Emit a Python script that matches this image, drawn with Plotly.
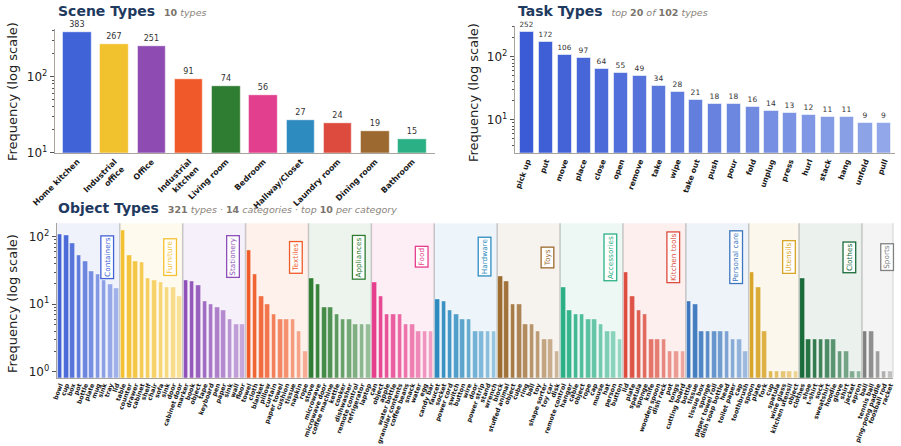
import plotly.graph_objects as go

# ---------------- data ----------------
scene_types = ["Home kitchen", "Industrial<br>office", "Office", "Industrial<br>kitchen", "Living room",
               "Bedroom", "Hallway/Closet", "Laundry room", "Dining room", "Bathroom"]
scene_counts = [383, 267, 251, 91, 74, 56, 27, 24, 19, 15]
scene_colors = ["#4163d8", "#f2c12e", "#8e4cb3", "#f05a2a", "#2e7d32",
                "#e23f8e", "#2e8bc0", "#dd4b3e", "#9c6a30", "#2bb085"]

task_types = ["pick up", "put", "move", "place", "close", "open", "remove", "take", "wipe", "take out",
              "push", "pour", "fold", "unplug", "press", "hurl", "stack", "hang", "unfold", "pull"]
task_counts = [252, 172, 106, 97, 64, 55, 49, 34, 28, 21, 18, 18, 16, 14, 13, 12, 11, 11, 9, 9]

obj_categories = ["Containers", "Furniture", "Stationery", "Textiles", "Appliances", "Food", "Hardware",
                  "Toys", "Accessories", "Kitchen tools", "Personal care", "Utensils", "Clothes", "Sports"]
obj_cat_colors = ["#4263d6", "#f3c130", "#8e4fb8", "#f05a28", "#2e7d32", "#e63e8c", "#2e8bc0",
                  "#9c6b30", "#2bb086", "#dd4b3e", "#3b76be", "#d9a528", "#1a6b3a", "#808080"]
obj_labels = [
    ["bowl", "cup", "box", "pot", "bottle", "plate", "mug", "sink", "tray", "lid"],
    ["table", "counter", "drawer", "cabinet", "shelf", "chair", "sofa", "sink", "door", "cabinet door"],
    ["marker", "book", "object", "tape", "keyboard", "pen", "paper", "sink", "wall", "floor"],
    ["towel", "cloth", "blanket", "pillow", "curtain", "paper towel", "cushion", "tissue", "napkin", "rope"],
    ["stove", "microwave", "microwave door", "coffee machine", "kettle", "cooker", "dishwasher",
     "remote control", "refrigerator", "laptop"],
    ["can", "object", "apple", "water bottle", "granular contents", "coffee beans", "snack", "water",
     "egg", "candy bar"],
    ["faucet", "socket", "power cord", "switch", "button", "wire", "door", "power strip", "stand", "wrench"],
    ["block", "stuffed animal", "object", "cube", "ring", "ball", "toy", "shape sorter", "toy car", "disk"],
    ["remote control", "hanger", "cable", "object", "rope", "cap", "mouse", "hat", "person", "button"],
    ["lid", "plate", "spatula", "sponge", "knife", "wooden spoon", "dish rack", "pot", "tongs", "cutting board"],
    ["bottle", "tissue", "tissue box", "sponge", "paper towel roll", "dish soap bottle", "head",
     "toilet paper", "cap", "toothbrush"],
    ["spoon", "plate", "fork", "cup", "spatula", "wine glass", "kitchen utensil", "object"],
    ["clothes", "shoe", "t-shirt", "sock", "sweatshirt", "hoodie", "glove", "shirt", "jacket", "apron"],
    ["ball", "tennis ball", "ping-pong paddle", "foosball rod", "racket"],
]
obj_counts = [
    [108, 104, 80, 53, 44, 31, 28, 23, 20, 17],
    [124, 54, 44, 42, 24, 23, 21, 18, 18, 13],
    [23, 22, 19, 11, 10, 9, 8, 6, 5, 5],
    [62, 28, 13, 10, 7, 6, 6, 6, 4, 2],
    [24, 20, 9, 9, 7, 6, 6, 5, 5, 5],
    [21, 13, 7, 7, 7, 5, 5, 4, 4, 4],
    [12, 11, 8, 7, 6, 6, 4, 4, 4, 4],
    [26, 22, 10, 10, 5, 5, 4, 3, 3, 2],
    [18, 8, 7, 7, 6, 6, 5, 4, 4, 3],
    [30, 13, 8, 7, 3, 3, 3, 2, 2, 2],
    [11, 10, 4, 4, 4, 4, 4, 3, 3, 2],
    [30, 18, 4, 1, 1, 1, 1, 1],
    [24, 3, 3, 3, 3, 3, 2, 2, 1, 1],
    [4, 4, 2, 1, 1],
]

# ---------------- helpers ----------------
FONT = "DejaVu Sans"
W, H = 901, 446


def hex_rgb(h):
    h = h.lstrip("#")
    return tuple(int(h[i:i + 2], 16) for i in (0, 2, 4))


def mix_white(h, t):
    r, g, b = hex_rgb(h)
    return "rgb(%d,%d,%d)" % (r + (255 - r) * t, g + (255 - g) * t, b + (255 - b) * t)


def lerp(h1, h2, t):
    a, b = hex_rgb(h1), hex_rgb(h2)
    return "rgb(%d,%d,%d)" % tuple(a[i] + (b[i] - a[i]) * t for i in range(3))


def rgba(h, a):
    r, g, b = hex_rgb(h)
    return "rgba(%d,%d,%d,%.3f)" % (r, g, b, a)


def px(x):
    return x / W


def py(y):
    return 1 - y / H


fig = go.Figure()

# Scene bars
fig.add_trace(go.Bar(
    x=list(range(len(scene_types))), y=scene_counts, width=0.76,
    marker=dict(color=scene_colors, line=dict(color="rgba(255,255,255,0.55)", width=1.2)),
    text=[str(v) for v in scene_counts], textposition="outside", cliponaxis=False,
    textfont=dict(family=FONT, size=8, color="#333333"),
    xaxis="x", yaxis="y", showlegend=False, hoverinfo="skip"))

# Task bars
n_t = len(task_types)
task_colors = [lerp("#3a5bd5", "#92a7e9", i / (n_t - 1)) for i in range(n_t)]
fig.add_trace(go.Bar(
    x=list(range(n_t)), y=task_counts, width=0.75,
    marker=dict(color=task_colors, line=dict(color="rgba(255,255,255,0.55)", width=1)),
    text=[str(v) for v in task_counts], textposition="outside", cliponaxis=False,
    textfont=dict(family=FONT, size=7.5, color="#333333"),
    xaxis="x2", yaxis="y2", showlegend=False, hoverinfo="skip"))

# Object bars
ox, oy, oc, otext = [], [], [], []
shapes, annotations = [], []
idx = 0
bounds = []
for ci, cat in enumerate(obj_categories):
    labs, vals, col = obj_labels[ci], obj_counts[ci], obj_cat_colors[ci]
    n = len(vals)
    start = idx
    for j, (lab, v) in enumerate(zip(labs, vals)):
        ox.append(idx)
        oy.append(v)
        oc.append(mix_white(col, 0.5 * j / max(n - 1, 1)))
        otext.append(lab)
        idx += 1
    shapes.append(dict(type="rect", xref="x3", yref="y3 domain", x0=start - 0.5, x1=idx - 0.5,
                       y0=0, y1=1, fillcolor=rgba(col, 0.085), line=dict(width=0), layer="below"))
    bounds.append(start - 0.5)
    annotations.append(dict(
        x=start - 0.5 + 0.8 * n, y=1.70, xref="x3", yref="y3", text=cat, textangle=-90,
        showarrow=False, font=dict(family=FONT, size=7.3, color=col),
        bgcolor="white", bordercolor=col, borderwidth=1.3, borderpad=1))
bounds.append(idx - 0.5)
for b in bounds[1:]:
    shapes.append(dict(type="line", xref="x3", yref="y3 domain", x0=b, x1=b, y0=0, y1=1,
                       line=dict(color="rgba(160,160,160,0.55)", width=1.5), layer="below"))

fig.add_trace(go.Bar(
    x=ox, y=oy, width=0.72,
    marker=dict(color=oc, line=dict(color="rgba(255,255,255,0.6)", width=0.6)),
    xaxis="x3", yaxis="y3", showlegend=False, hoverinfo="skip"))

# ---------------- axes ----------------
spine = "#a8a39c"
tickc = "#555555"


def ylog(domain, rng, tv, tt, minors, anchor):
    return dict(type="log", domain=domain, range=rng, tickvals=tv, ticktext=tt, anchor=anchor,
                automargin=False,
                tickfont=dict(family=FONT, size=12, color="#222222"),
                showline=True, linecolor=spine, linewidth=1.4, ticks="outside", ticklen=4,
                tickcolor=tickc, tickwidth=1, showgrid=False, zeroline=False,
                minor=dict(tickvals=minors, ticks="outside", ticklen=2, tickcolor=tickc, tickwidth=0.8,
                           showgrid=False))


def xcat(domain, rng, anchor, labels, size, angle):
    return dict(domain=domain, range=rng, anchor=anchor, tickvals=list(range(len(labels))),
                ticktext=labels, tickangle=angle, automargin=False,
                tickfont=dict(family=FONT, size=size, color="#1a1a1a", weight="bold"),
                showline=True, linecolor=spine, linewidth=1.4, ticks="", showgrid=False, zeroline=False)


minor_s = [20, 30, 40, 50, 60, 70, 80, 90, 200, 300, 400]
minor_t = [4, 5, 6, 7, 8, 9, 20, 30, 40, 50, 60, 70, 80, 90, 200, 300]
minor_o = [2, 3, 4, 5, 6, 7, 8, 9, 20, 30, 40, 50, 60, 70, 80, 90, 200, 300]

fig.update_layout(
    width=W, height=H, margin=dict(l=0, r=0, t=0, b=0, autoexpand=False),
    paper_bgcolor="white", plot_bgcolor="rgba(0,0,0,0)", bargap=0,
    font=dict(family=FONT),
    xaxis=xcat([px(55), px(435)], [-0.6, 9.6], "y", scene_types, 8, -45),
    yaxis=ylog([py(152.7), py(29.3)], [1, 2.62], [10, 100], ["10<sup>1</sup>", "10<sup>2</sup>"], minor_s, "x"),
    xaxis2=xcat([px(515), px(895)], [-0.65, 19.57], "y2", task_types, 7.5, -70),
    yaxis2=ylog([py(152.7), py(26)], [0.48, 2.49], [10, 100], ["10<sup>1</sup>", "10<sup>2</sup>"], minor_t, "x2"),
    xaxis3=xcat([px(56.9), px(893.4)], [-0.5, 132.5], "y3", otext, 6.3, -70),
    yaxis3=ylog([py(377.7), py(223.3)], [-0.09, 2.2], [1, 10, 100],
                ["10<sup>0</sup>", "10<sup>1</sup>", "10<sup>2</sup>"], minor_o, "x3"),
)

# ---------------- titles ----------------
title_c = "#1f3a5f"
sub_c = "#8a847c"
subb_c = "#7a746c"


def title(x, y, main, sub):
    return dict(x=px(x), y=py(y), xref="paper", yref="paper", xanchor="left", yanchor="middle",
                showarrow=False,
                text="<b>%s</b>  <span style='font-size:9.5px;color:%s'>%s</span>" % (main, sub_c, sub),
                font=dict(family=FONT, size=14, color=title_c))


annotations += [
    title(56, 11, "Scene Types", "<b style='color:%s'>10</b> <i>types</i>" % subb_c),
    title(516, 11, "Task Types",
          "<i>top</i> <b style='color:%s'>20</b> <i>of</i> <b style='color:%s'>102</b> <i>types</i>" % (subb_c, subb_c)),
    title(56, 208, "Object Types",
          "<b style='color:%s'>321</b> <i>types</i> · <b style='color:%s'>14</b> <i>categories</i> · "
          "<i>top</i> <b style='color:%s'>10</b> <i>per category</i>" % (subb_c, subb_c, subb_c)),
]
for (x, y) in [(12, 92), (473, 92), (12, 304)]:
    annotations.append(dict(x=px(x), y=py(y), xref="paper", yref="paper", xanchor="center",
                            yanchor="middle", showarrow=False, textangle=-90,
                            text="Frequency (log scale)", font=dict(family=FONT, size=13, color="#222222")))

fig.update_layout(shapes=shapes, annotations=annotations)
fig.write_html("out.html")
